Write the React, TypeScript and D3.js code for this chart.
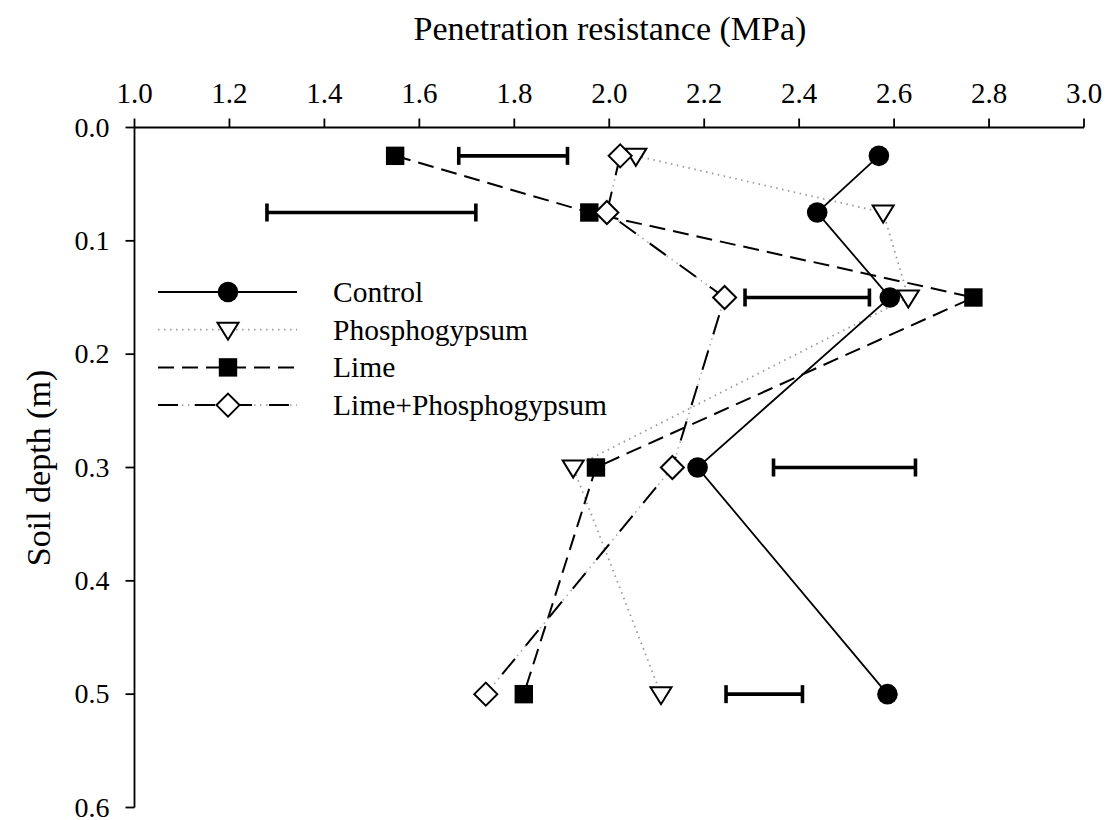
import React from "react";
import * as d3 from "d3";

const depths = [0.025, 0.075, 0.15, 0.3, 0.5];
const control = [2.568, 2.438, 2.591, 2.186, 2.586];
const phosphogypsum = [2.056, 2.577, 2.63, 1.924, 2.109];
const lime = [1.549, 1.958, 2.767, 1.972, 1.82];
const limePG = [2.023, 1.995, 2.243, 2.133, 1.74];
const lsdLow = [1.683, 1.279, 2.286, 2.346, 2.246];
const lsdHigh = [1.912, 1.719, 2.548, 2.645, 2.407];
const xTicks = [1.0, 1.2, 1.4, 1.6, 1.8, 2.0, 2.2, 2.4, 2.6, 2.8, 3.0];
const yTicks = [0.0, 0.1, 0.2, 0.3, 0.4, 0.5, 0.6];
const seriesNames = ["Control", "Phosphogypsum", "Lime", "Lime+Phosphogypsum"];

const W = 1117, H = 820;
const FONT = "Liberation Serif, Times New Roman, serif";

const x = d3.scaleLinear().domain([1, 3]).range([134.5, 1084]);
const y = d3.scaleLinear().domain([0, 0.6]).range([127.5, 807.5]);

type Kind = "circle" | "tri" | "square" | "diamond";

function Marker({ kind, cx, cy }: { kind: Kind; cx: number; cy: number }) {
  if (kind === "circle") return <circle cx={cx} cy={cy} r={10.3} fill="#000" />;
  if (kind === "square") return <rect x={cx - 9.2} y={cy - 9.2} width={18.4} height={18.4} fill="#000" />;
  if (kind === "tri") {
    const pts = [[cx - 10.5, cy - 7], [cx + 10.5, cy - 7], [cx, cy + 10]];
    return <polygon points={pts.map((p) => p.join(",")).join(" ")} fill="#fff" stroke="#000" strokeWidth={2} strokeLinejoin="miter" />;
  }
  const pts = [[cx, cy - 11.5], [cx + 11.5, cy], [cx, cy + 11.5], [cx - 11.5, cy]];
  return <polygon points={pts.map((p) => p.join(",")).join(" ")} fill="#fff" stroke="#000" strokeWidth={2} />;
}

type Series = { name: string; values: number[]; kind: Kind; style: string };
const series: Series[] = [
  { name: seriesNames[1], values: phosphogypsum, kind: "tri", style: "dot" },
  { name: seriesNames[0], values: control, kind: "circle", style: "solid" },
  { name: seriesNames[2], values: lime, kind: "square", style: "dash" },
  { name: seriesNames[3], values: limePG, kind: "diamond", style: "dashdot" },
];

function LinePath({ d, style }: { d: string; style: string }) {
  if (style === "solid") return <path d={d} fill="none" stroke="#000" strokeWidth={1.8} />;
  if (style === "dot") return <path d={d} fill="none" stroke="#9a9a9a" strokeWidth={1.8} strokeDasharray="1.5 4.5" />;
  if (style === "dash") return <path d={d} fill="none" stroke="#000" strokeWidth={2} strokeDasharray="16 8" />;
  return (
    <g>
      <path d={d} fill="none" stroke="#a8a8a8" strokeWidth={1.6} strokeDasharray="1.5 4.5" />
      <path d={d} fill="none" stroke="#000" strokeWidth={2} strokeDasharray="20 17" />
    </g>
  );
}

export default function App() {
  const line = d3.line<number>().x((v) => x(v)).y((_, i) => y(depths[i]));
  const legendRows = [
    { name: seriesNames[0], kind: "circle" as Kind, style: "solid" },
    { name: seriesNames[1], kind: "tri" as Kind, style: "dot" },
    { name: seriesNames[2], kind: "square" as Kind, style: "dash" },
    { name: seriesNames[3], kind: "diamond" as Kind, style: "dashdot" },
  ];
  return (
    <svg width={W} height={H} style={{ position: "absolute", left: 0, top: 0, background: "#fff" }} fontFamily={FONT}>
      <rect width={W} height={H} fill="#fff" />
      <text x={610} y={40} fontSize={34} textAnchor="middle">Penetration resistance (MPa)</text>
      <text transform={`translate(50,468) rotate(-90)`} fontSize={34} textAnchor="middle">Soil depth (m)</text>
      <line x1={x(1)} x2={x(3)} y1={y(0)} y2={y(0)} stroke="#000" strokeWidth={1.8} />
      {xTicks.map((t) => (
        <g key={t}>
          <line x1={x(t)} x2={x(t)} y1={y(0)} y2={y(0) - 9} stroke="#000" strokeWidth={1.8} />
          <text x={x(t)} y={103} fontSize={29} textAnchor="middle">{t.toFixed(1)}</text>
        </g>
      ))}
      <line x1={x(1)} x2={x(1)} y1={y(0)} y2={y(0.6)} stroke="#000" strokeWidth={1.8} />
      {yTicks.map((t) => (
        <g key={t}>
          <line x1={x(1)} x2={x(1) - 9} y1={y(t)} y2={y(t)} stroke="#000" strokeWidth={1.8} />
          <text x={x(1) - 25} y={y(t) + 9} fontSize={28} textAnchor="end">{t.toFixed(1)}</text>
        </g>
      ))}
      {depths.map((dp, i) => (
        <g key={"e" + i} stroke="#000" strokeWidth={3.6}>
          <line x1={x(lsdLow[i])} x2={x(lsdHigh[i])} y1={y(dp)} y2={y(dp)} />
          <line x1={x(lsdLow[i])} x2={x(lsdLow[i])} y1={y(dp) - 9} y2={y(dp) + 9} />
          <line x1={x(lsdHigh[i])} x2={x(lsdHigh[i])} y1={y(dp) - 9} y2={y(dp) + 9} />
        </g>
      ))}
      {series.map((s) => (
        <LinePath key={"l" + s.name} d={line(s.values) as string} style={s.style} />
      ))}
      {series.map((s) => (
        <g key={"m" + s.name}>
          {s.values.map((v, i) => (
            <Marker key={i} kind={s.kind} cx={x(v)} cy={y(depths[i])} />
          ))}
        </g>
      ))}
      {legendRows.map((r, i) => {
        const ly = 292 + i * 37.7;
        return (
          <g key={"lg" + i}>
            <LinePath d={`M158,${ly}L297,${ly}`} style={r.style} />
            <Marker kind={r.kind} cx={228} cy={ly} />
            <text x={333} y={ly + 10} fontSize={29.5}>{r.name}</text>
          </g>
        );
      })}
    </svg>
  );
}
